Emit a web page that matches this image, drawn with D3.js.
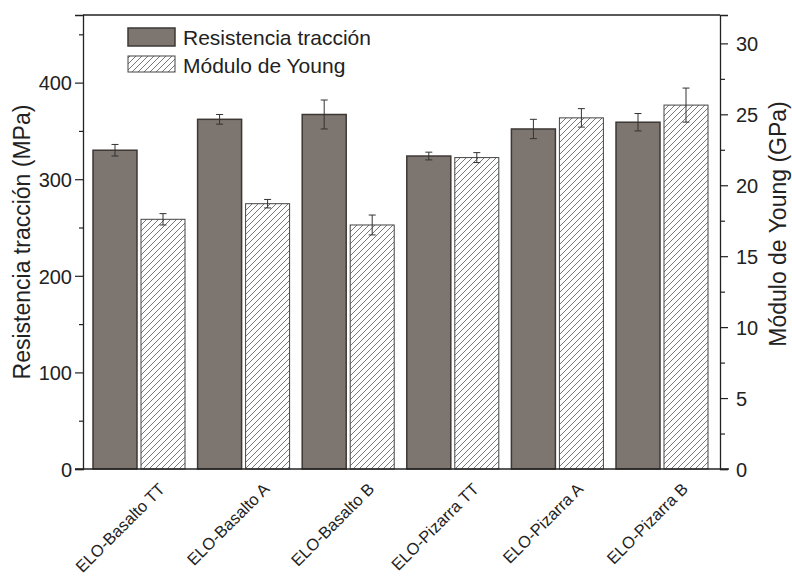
<!DOCTYPE html>
<html>
<head>
<meta charset="utf-8">
<script src="https://cdn.jsdelivr.net/npm/d3@7/dist/d3.min.js"></script>
<style>
  html, body { margin: 0; padding: 0; background: #fff; }
  svg text { font-family: "Liberation Sans", Arial, sans-serif; fill: #222; }
</style>
</head>
<body>
<svg id="chart" width="792" height="578"></svg>
<script>
// Samples and measured properties
const categories = ["ELO-Basalto TT", "ELO-Basalto A", "ELO-Basalto B",
                    "ELO-Pizarra TT", "ELO-Pizarra A", "ELO-Pizarra B"];
const tensile    = [330, 362, 367, 324, 352, 359];        // MPa
const tensileErr = [6, 5, 15, 4, 10, 9];
const young      = [17.6, 18.7, 17.2, 21.95, 24.75, 25.65]; // GPa
const youngErr   = [0.4, 0.3, 0.7, 0.35, 0.65, 1.2];
const leftTicks  = [0, 100, 200, 300, 400];
const rightTicks = [0, 5, 10, 15, 20, 25, 30];
const seriesNames = ["Resistencia tracción", "Módulo de Young"];

const svg = d3.select("#chart");
const frame = { left: 83, right: 720, top: 15, bottom: 469 };

const x = d3.scaleBand().domain(categories).range([86.7, 714.3]).paddingInner(0).paddingOuter(0);
const yL = d3.scaleLinear().domain([0, 470]).range([frame.bottom, frame.top]);
const yR = d3.scaleLinear().domain([0, 32]).range([frame.bottom, frame.top]);

const groupW = 92, barW = 44, gap = 4;
const darkFill = "#7d7570", darkStroke = "#3e3834";

// diagonal hatch
const defs = svg.append("defs");
const pat = defs.append("pattern").attr("id", "hatch")
  .attr("patternUnits", "userSpaceOnUse").attr("width", 6).attr("height", 6);
pat.append("rect").attr("width", 6).attr("height", 6).attr("fill", "#fff");
pat.append("path").attr("d", "M-1,1 L1,-1 M0,6 L6,0 M5,7 L7,5")
  .attr("stroke", "#555").attr("stroke-width", 0.8);

const gx = i => x(categories[i]) + (x.bandwidth() - groupW) / 2;

// tensile bars
svg.append("g").selectAll("rect").data(tensile).join("rect")
  .attr("x", (d, i) => gx(i))
  .attr("y", d => yL(d))
  .attr("width", barW)
  .attr("height", d => yL(0) - yL(d))
  .attr("fill", darkFill).attr("stroke", darkStroke).attr("stroke-width", 1.5);

// modulus bars
svg.append("g").selectAll("rect").data(young).join("rect")
  .attr("x", (d, i) => gx(i) + barW + gap)
  .attr("y", d => yR(d))
  .attr("width", barW)
  .attr("height", d => yR(0) - yR(d))
  .attr("fill", "url(#hatch)").attr("stroke", "#444").attr("stroke-width", 1);

// error bars
function errorBars(vals, errs, scale, offset) {
  const g = svg.append("g").attr("stroke", "#333").attr("stroke-width", 1).attr("fill", "none");
  vals.forEach((v, i) => {
    const cx = gx(i) + offset + barW / 2;
    const y1 = scale(v + errs[i]), y2 = scale(v - errs[i]);
    g.append("line").attr("x1", cx).attr("x2", cx).attr("y1", y1).attr("y2", y2);
    g.append("line").attr("x1", cx - 3.5).attr("x2", cx + 3.5).attr("y1", y1).attr("y2", y1);
    g.append("line").attr("x1", cx - 3.5).attr("x2", cx + 3.5).attr("y1", y2).attr("y2", y2);
  });
}
errorBars(tensile, tensileErr, yL, 0);
errorBars(young, youngErr, yR, barW + gap);

// frame: top, left, right, and baseline
const axisColor = "#222";
svg.append("line").attr("x1", frame.left).attr("x2", frame.right)
  .attr("y1", frame.top).attr("y2", frame.top).attr("stroke", axisColor).attr("stroke-width", 1.3);
svg.append("line").attr("x1", 75).attr("x2", 729)
  .attr("y1", frame.bottom).attr("y2", frame.bottom).attr("stroke", axisColor).attr("stroke-width", 1.3);

// left axis
const axL = svg.append("g").attr("transform", `translate(${frame.left},0)`)
  .call(d3.axisLeft(yL).tickValues(leftTicks).tickSize(8).tickPadding(3));
svg.append("g").attr("transform", `translate(${frame.left},0)`)
  .call(d3.axisLeft(yL).tickValues(d3.range(50, 470, 100)).tickSize(4).tickFormat(""))
  .select(".domain").remove();

// right axis
const axR = svg.append("g").attr("transform", `translate(${frame.right},0)`)
  .call(d3.axisRight(yR).tickValues(rightTicks).tickSize(8).tickPadding(8));
svg.append("g").attr("transform", `translate(${frame.right},0)`)
  .call(d3.axisRight(yR).tickValues(d3.range(2.5, 30, 5)).tickSize(5).tickFormat(""))
  .select(".domain").remove();

svg.selectAll(".tick line").attr("stroke", axisColor).attr("stroke-width", 1.2);
svg.selectAll(".domain").attr("stroke", axisColor).attr("stroke-width", 1.3);
svg.selectAll(".tick text").style("font-size", "20px").attr("fill", "#222");
axL.selectAll(".tick text").attr("dy", "0.36em");
axR.selectAll(".tick text").attr("dy", "0.36em");

// axis titles
svg.append("text").attr("transform", `translate(30,242) rotate(-90)`)
  .attr("text-anchor", "middle").style("font-size", "23px").text("Resistencia tracción (MPa)");
svg.append("text").attr("transform", `translate(786,224) rotate(-90)`)
  .attr("text-anchor", "middle").style("font-size", "23px").text("Módulo de Young (GPa)");

// category labels
svg.append("g").selectAll("text").data(categories).join("text")
  .attr("transform", d => `translate(${x(d) + x.bandwidth() / 2 + 27},${frame.bottom + 21}) rotate(-45)`)
  .attr("text-anchor", "end").style("font-size", "16.5px").text(d => d);

// legend
const lg = svg.append("g");
lg.append("rect").attr("x", 128).attr("y", 28).attr("width", 47).attr("height", 18)
  .attr("fill", darkFill).attr("stroke", darkStroke).attr("stroke-width", 1.5);
lg.append("rect").attr("x", 128).attr("y", 56).attr("width", 47).attr("height", 16)
  .attr("fill", "url(#hatch)").attr("stroke", "#444").attr("stroke-width", 1);
lg.append("text").attr("x", 183).attr("y", 45).style("font-size", "21px").text(seriesNames[0]);
lg.append("text").attr("x", 183).attr("y", 73).style("font-size", "21px").text(seriesNames[1]);
</script>
</body>
</html>
